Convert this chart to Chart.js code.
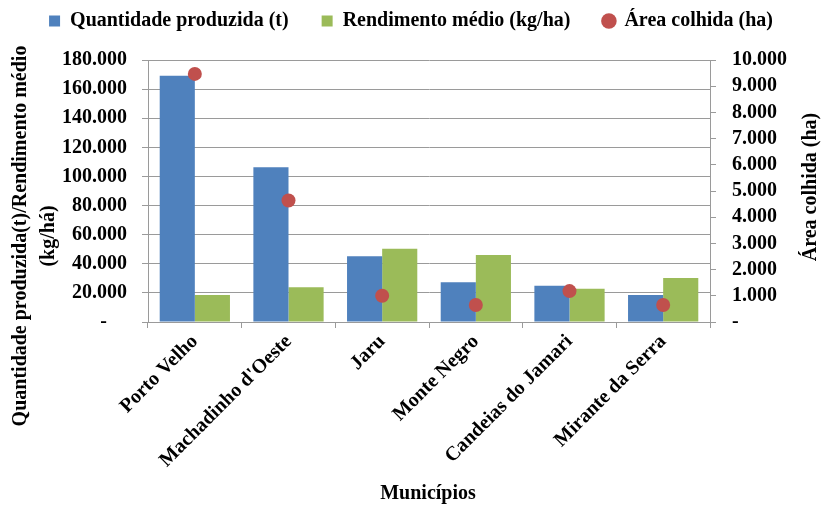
<!DOCTYPE html>
<html>
<head>
<meta charset="utf-8">
<script src="https://cdn.jsdelivr.net/npm/chart.js@4"></script>
<style>
  body { margin: 0; background: #fff; }
  canvas { display: block; }
</style>
</head>
<body>
<canvas id="chart" width="822" height="506"></canvas>
<script>
const municipios = ['Porto Velho', "Machadinho d'Oeste", 'Jaru', 'Monte Negro', 'Candeias do Jamari', 'Mirante da Serra']
const quantidade = [169200, 106300, 45100, 27300, 24900, 18600]
const rendimento = [18500, 23800, 50300, 46000, 22900, 30200]
const areaColhida = [9470, 4640, 1000, 650, 1180, 650]

const serif = "'Liberation Serif', 'Times New Roman', serif"
const gray = '#9a9a9a'

const fmt = v => v === 0 ? '-' : String(v).replace(/\B(?=(\d{3})+(?!\d))/g, '.')

// axis titles are drawn by hand so they can sit where the original has them
const axisTitles = {
  id: 'axisTitles',
  afterDraw (chart) {
    const { ctx } = chart
    ctx.save()
    ctx.fillStyle = '#000'
    ctx.font = 'bold 20px ' + serif
    ctx.textAlign = 'center'
    ctx.textBaseline = 'middle'

    ctx.save()
    ctx.translate(21, 236)
    ctx.rotate(-Math.PI / 2)
    ctx.fillText('Quantidade produzida(t)/Rendimento médio', 0, 0)
    ctx.fillText('(kg/há)', 0, 28)
    ctx.restore()

    ctx.save()
    ctx.translate(811, 187)
    ctx.rotate(-Math.PI / 2)
    ctx.fillText('Área colhida (ha)', 0, 0)
    ctx.restore()

    ctx.fillText('Municípios', 428, 494)
    ctx.restore()
  }
}

// a bit more room under the legend
const legendGap = {
  id: 'legendGap',
  beforeInit (chart) {
    const fit = chart.legend.fit
    chart.legend.fit = function () {
      fit.bind(chart.legend)()
      this.height += 19
    }
  }
}

const data = {
  labels: municipios,
  datasets: [
    {
      label: 'Quantidade produzida (t)',
      data: quantidade,
      backgroundColor: '#4F81BD',
      yAxisID: 'y',
      pointStyle: 'rect',
      order: 1
    },
    {
      label: 'Rendimento médio (kg/ha)',
      data: rendimento,
      backgroundColor: '#9BBB59',
      yAxisID: 'y',
      pointStyle: 'rect',
      order: 1
    },
    {
      type: 'line',
      label: 'Área colhida (ha)',
      data: areaColhida,
      showLine: false,
      pointStyle: 'circle',
      pointRadius: 7,
      pointBorderWidth: 0,
      backgroundColor: '#C0504D',
      borderColor: '#C0504D',
      yAxisID: 'y1',
      order: 0
    }
  ]
}

const tickFont = { family: serif, size: 20, weight: 'bold' }

const options = {
  responsive: false,
  animation: false,
  layout: { padding: { top: -22, left: 0, right: 0, bottom: 0 } },
  datasets: {
    bar: { categoryPercentage: 0.75, barPercentage: 1.0 }
  },
  plugins: {
    legend: {
      display: true,
      position: 'top',
      labels: {
        usePointStyle: true,
        boxWidth: 11,
        boxHeight: 11,
        padding: 33,
        color: '#000',
        font: { family: serif, size: 20, weight: 'bold' },
        sort: (a, b) => a.datasetIndex - b.datasetIndex
      }
    },
    tooltip: { enabled: false }
  },
  scales: {
    x: {
      offset: true,
      grid: { display: true, drawOnChartArea: false, color: gray, tickLength: 6 },
      border: { color: gray },
      ticks: { minRotation: 45, maxRotation: 45, color: '#000', font: tickFont, padding: 2 },
      afterFit: scale => { scale.height = 184 }
    },
    y: {
      position: 'left',
      min: 0,
      max: 180000,
      grid: { color: gray, tickLength: 6 },
      border: { color: gray },
      ticks: {
        stepSize: 20000,
        autoSkip: false,
        color: '#000',
        font: tickFont,
        padding: 15,
        callback: v => v === 0 ? '-    ' : fmt(v)
      },
      afterFit: scale => { scale.width = 148 }
    },
    y1: {
      position: 'right',
      min: 0,
      max: 10000,
      grid: { drawOnChartArea: false, color: gray, tickLength: 6 },
      border: { color: gray },
      ticks: {
        stepSize: 1000,
        autoSkip: false,
        color: '#000',
        font: tickFont,
        padding: 16,
        callback: v => fmt(v)
      },
      afterFit: scale => { scale.width = 112 }
    }
  }
}

new Chart('chart', {
  type: 'bar',
  data,
  options,
  plugins: [axisTitles, legendGap]
})
</script>
</body>
</html>
